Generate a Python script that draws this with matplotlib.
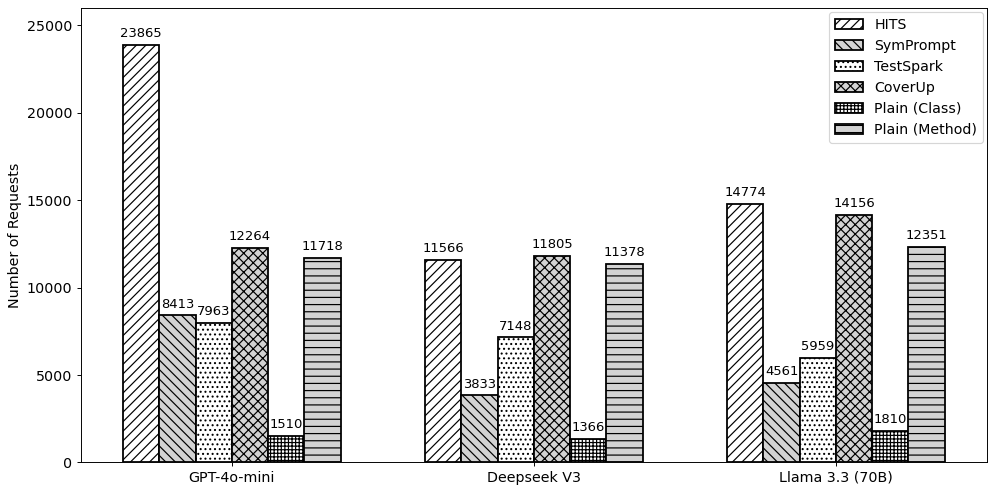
import matplotlib
matplotlib.use("Agg")
from matplotlib import pyplot as plt
import numpy as np

models = ['GPT-4o-mini', 'Deepseek V3', 'Llama 3.3 (70B)']
methods = ['HITS', 'SymPrompt', 'TestSpark', 'CoverUp', 'Plain (Class)', 'Plain (Method)']
hits = [23865, 11566, 14774]
symprompt = [8413, 3833, 4561]
testspark = [7963, 7148, 5959]
coverup = [12264, 11805, 14156]
plain_class = [1510, 1366, 1810]
plain_method = [11718, 11378, 12351]

series = [hits, symprompt, testspark, coverup, plain_class, plain_method]
hatches = ['///', '\\\\\\', '...', 'xxx', '++++', '--']
colors = ['white', 'lightgray', 'white', 'lightgray', 'white', 'lightgray']

DPI = 86
fs = 11.9
fig, ax = plt.subplots(figsize=(997 / DPI, 493 / DPI), dpi=DPI)
x = np.arange(len(models))
width = 0.12
for i, (vals, name) in enumerate(zip(series, methods)):
    pos = x + (i - 2.5) * width
    bars = ax.bar(pos, vals, width, label=name, color=colors[i], hatch=hatches[i],
                  edgecolor='black', linewidth=1.5)
    ax.bar_label(bars, padding=4, fontsize=11)

ax.set_xticks(x)
ax.set_xticklabels(models, fontsize=fs)
ax.set_xlim(-0.5, 2.5)
ax.set_ylim(0, 26000)
ax.set_ylabel('Number of Requests', fontsize=fs)
ax.tick_params(axis='y', labelsize=fs)
ax.legend(loc='upper right', fontsize=11.8, borderaxespad=0.3)
plt.subplots_adjust(left=0.081, right=0.99, top=0.984, bottom=0.062)
plt.savefig("out.png", dpi=DPI)
